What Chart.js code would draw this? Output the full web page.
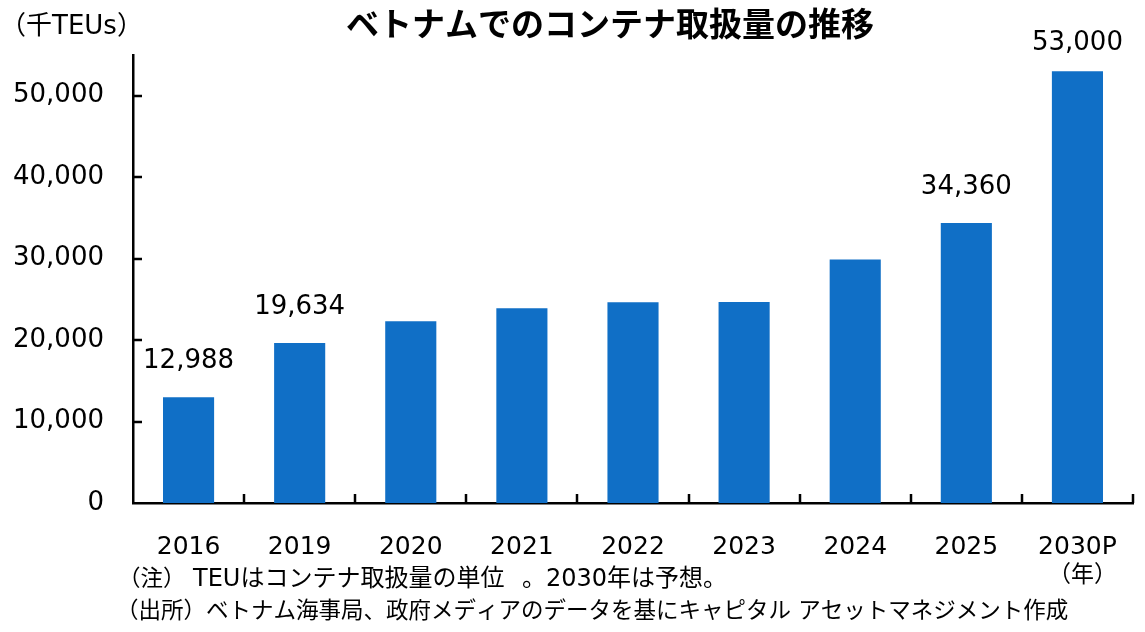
<!DOCTYPE html>
<html>
<head>
<meta charset="utf-8">
<script src="https://cdn.jsdelivr.net/npm/chart.js@4.4.1/dist/chart.umd.min.js"></script>
<style>
  html, body { margin: 0; padding: 0; background: #fff; }
  #wrap { width: 1145px; height: 632px; }
</style>
</head>
<body>
<div id="wrap"><canvas id="chart" width="1145" height="632"></canvas></div>
<script>
// data
const years = ['2016', '2019', '2020', '2021', '2022', '2023', '2024', '2025', '2030P'];
const teus = [12988, 19634, 22320, 23920, 24650, 24680, 29890, 34360, 53000];
const labeledBars = [0, 1, 7, 8];
const yTicks = [0, 10000, 20000, 30000, 40000, 50000];

const titleText = 'ベトナムでのコンテナ取扱量の推移';
const unitText = '（千TEUs）';
const yearText = '（年）';
// note line 1 is split in pieces so its spacing follows the original
const note1 = [['（注）', 118, 22.5], ['TEUはコンテナ取扱量の単位', 193, 24], ['。2030年は予想。', 522, 24]];
const note2 = '（出所）ベトナム海事局、政府メディアのデータを基にキャピタル アセットマネジメント作成';

const FONT = '"DejaVu Sans", "Noto Sans CJK JP", sans-serif';
const JP = '"Noto Sans CJK JP", sans-serif';

// inside tick marks, bar value labels and surrounding texts
const extras = {
  id: 'extras',
  afterDraw(chart) {
    const ctx = chart.ctx;
    const y = chart.scales.y;
    const area = chart.chartArea;
    ctx.save();
    ctx.strokeStyle = '#000';
    ctx.lineWidth = 2.5;
    ctx.beginPath();
    yTicks.forEach(v => {
      if (v === 0) return;
      const py = Math.round(y.getPixelForValue(v));
      ctx.moveTo(area.left, py);
      ctx.lineTo(area.left + 9, py);
    });
    for (let i = 1; i <= years.length; i++) {
      const px = Math.round(area.left + (area.right - area.left) * i / years.length);
      ctx.moveTo(px, area.bottom);
      ctx.lineTo(px, area.bottom - 9);
    }
    ctx.stroke();

    const meta = chart.getDatasetMeta(0);
    ctx.fillStyle = '#000';
    ctx.font = '26px ' + FONT;
    ctx.textAlign = 'center';
    ctx.textBaseline = 'middle';
    labeledBars.forEach(i => {
      const bar = meta.data[i];
      ctx.fillText(teus[i].toLocaleString('en-US'), bar.x, Math.max(bar.y - 36, 43));
    });

    ctx.font = 'bold 33px ' + JP;
    ctx.fillText(titleText, 610, 23);

    ctx.textAlign = 'left';
    ctx.font = '26px ' + FONT;
    ctx.fillText(unitText, 0, 27);
    ctx.font = '23px ' + FONT;
    ctx.fillText(yearText, 1048, 576);
    note1.forEach(([t, px, size]) => {
      ctx.font = size + 'px ' + FONT;
      ctx.fillText(t, px, 580);
    });
    ctx.font = '22.5px ' + FONT;
    ctx.fillText(note2, 116, 612);
    ctx.restore();
  }
};

new Chart(document.getElementById('chart'), {
  type: 'bar',
  data: {
    labels: years,
    datasets: [{
      data: teus,
      backgroundColor: '#106fc6',
      borderWidth: 0,
      barPercentage: 0.46,
      categoryPercentage: 1
    }]
  },
  options: {
    responsive: false,
    animation: false,
    layout: { padding: { top: 55, right: 12, left: 0, bottom: 0 } },
    plugins: { legend: { display: false }, tooltip: { enabled: false } },
    scales: {
      x: {
        grid: { display: false },
        border: { display: true, color: '#000', width: 2.5 },
        ticks: { color: '#000', font: { family: FONT, size: 25 }, padding: 21, maxRotation: 0 },
        afterFit(scale) { scale.height = 129; }
      },
      y: {
        min: 0,
        max: 55000,
        afterBuildTicks(scale) { scale.ticks = yTicks.map(v => ({ value: v })); },
        grid: { display: false },
        border: { display: true, color: '#000', width: 2.5 },
        ticks: {
          color: '#000',
          font: { family: FONT, size: 26 },
          padding: 21,
          callback: v => v.toLocaleString('en-US')
        },
        afterFit(scale) { scale.width = 133; }
      }
    }
  },
  plugins: [extras]
});
</script>
</body>
</html>
